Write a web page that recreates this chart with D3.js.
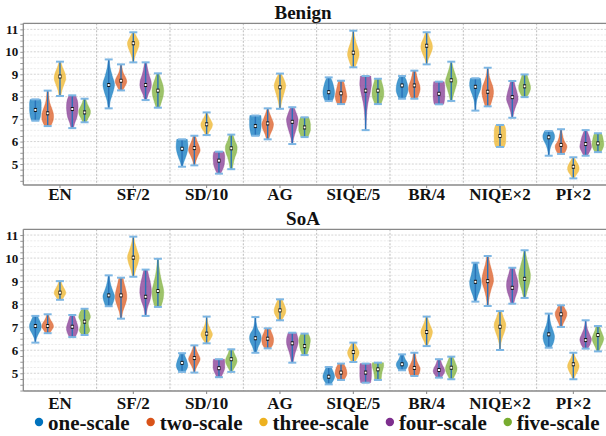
<!DOCTYPE html>
<html><head><meta charset="utf-8">
<script src="https://cdn.jsdelivr.net/npm/d3@7"></script>
<style>
html,body{margin:0;padding:0;background:#fff;}
svg{display:block;}
text{font-family:"Liberation Serif","Times New Roman",serif;font-weight:bold;}
</style></head>
<body>
<svg id="chart" width="606" height="436"></svg>
<script>
const categories = ["EN","SF/2","SD/10","AG","SIQE/5","BR/4","NIQE\u00d72","PI\u00d72"];
const seriesNames = ["one-scale","two-scale","three-scale","four-scale","five-scale"];
const seriesColors = ["#0072BD","#D95319","#EDB120","#7E2F8E","#77AC30"];
const yTicks = [5,6,7,8,9,10,11];
const panelTitles = ["Benign","SoA"];

// Benign panel: [min, median, max] per category, one array per series
const benignOne   = [[6.93,7.41,7.88],[7.48,8.52,9.66],[4.88,5.68,6.10],[6.26,6.69,7.16],[7.81,8.20,8.86],[7.91,8.50,8.92],[7.38,8.44,8.82],[5.37,6.19,6.47]];
const benignTwo   = [[6.69,7.26,8.27],[8.28,8.71,9.44],[4.94,5.71,6.26],[6.10,6.81,7.48],[7.67,8.15,8.71],[7.91,8.50,9.16],[7.57,8.22,9.29],[5.45,5.85,6.55]];
const benignThree = [[8.03,8.90,9.56],[9.53,10.38,10.87],[6.29,6.77,7.30],[7.46,8.42,9.03],[9.31,9.96,10.94],[9.44,10.27,10.87],[5.76,6.25,6.74],[4.36,4.88,5.30]];
const benignFour  = [[6.60,7.45,8.06],[7.85,8.52,9.53],[4.57,5.15,5.55],[5.89,6.88,7.53],[6.51,8.27,8.92],[7.66,8.13,8.67],[7.06,7.98,8.70],[5.37,5.89,6.51]];
const benignFive  = [[6.86,7.30,7.91],[7.51,8.27,9.04],[4.77,5.70,6.31],[6.20,6.63,7.08],[7.67,8.27,8.80],[7.81,8.73,9.56],[7.98,8.46,8.99],[5.53,5.92,6.37]];
// SoA panel
const soaOne   = [[6.33,7.05,7.49],[7.91,8.38,9.25],[5.06,5.45,5.87],[5.89,6.52,7.44],[4.52,4.85,5.27],[5.13,5.39,5.82],[8.11,8.97,9.80],[6.11,6.69,7.59]];
const soaTwo   = [[6.74,7.05,7.56],[7.37,8.38,9.15],[5.03,5.66,6.21],[6.08,6.50,6.95],[4.71,5.03,5.42],[4.88,5.23,5.89],[7.92,9.00,10.09],[7.01,7.56,7.95]];
const soaThree = [[8.19,8.50,9.00],[9.19,10.02,10.93],[6.30,6.72,7.46],[7.30,7.73,8.21],[5.49,5.92,6.33],[6.18,6.79,7.46],[6.01,7.02,7.70],[4.74,5.39,5.89]];
const soaFour  = [[6.57,7.02,7.53],[7.49,8.32,9.50],[4.83,5.22,5.61],[5.46,6.30,6.76],[4.59,5.03,5.42],[4.81,5.14,5.61],[8.02,8.71,9.58],[6.07,6.44,7.30]];
const soaFive  = [[6.66,7.24,7.80],[7.88,8.57,9.97],[5.06,5.61,6.04],[5.79,6.18,6.72],[4.71,5.17,5.46],[4.74,5.24,5.72],[8.27,9.10,10.34],[5.95,6.66,7.05]];

// Relative violin widths from min (first) to max (last)
const benignOneShape   = [[.6,.85,.95,1,1,1,.9],[.1,.3,.75,1,.6,.25,.08],[.1,.3,.6,.85,1,1,.9],[.7,.85,.95,1,1,1,.95],[.6,.9,1,.95,.8,.6,.3],[.5,.8,1,1,.9,.7,.4],[.08,.12,.25,.55,.9,1,.85],[.08,.15,.3,.6,.95,1,.7]];
const benignTwoShape   = [[.5,.95,1,.7,.35,.2,.12],[.3,.7,1,.8,.4,.2,.1],[.1,.3,.65,1,.8,.45,.2],[.2,.45,.85,1,.7,.35,.1],[.6,.9,1,.9,.75,.6,.4],[.5,.8,1,.9,.6,.4,.25],[.4,.75,1,.9,.5,.2,.1],[.5,.9,1,.6,.35,.2,.1]];
const benignThreeShape = [[.15,.35,.7,1,.85,.45,.15],[.1,.25,.55,.9,1,.6,.15],[.2,.5,.9,1,.7,.35,.1],[.1,.25,.5,.8,1,.7,.2],[.3,.7,1,.85,.5,.25,.1],[.1,.3,.7,1,.9,.5,.2],[.75,.95,1,1,1,.95,.75],[.15,.5,.9,1,.8,.45,.15]];
const benignFourShape  = [[.2,.45,.8,.95,1,.9,.55],[.15,.5,.95,.95,.6,.35,.15],[.3,.6,.85,.95,1,1,.85],[.1,.25,.55,.85,1,.7,.3],[.05,.1,.2,.4,.75,1,.9],[.8,.95,1,1,1,1,.9],[.1,.3,.65,1,.85,.55,.3],[.3,.7,1,.9,.75,.5,.2]];
const benignFiveShape  = [[.3,.6,.95,1,.7,.4,.2],[.3,.6,.9,1,.85,.5,.2],[.2,.35,.6,.95,1,.6,.3],[.6,.8,1,1,1,.9,.7],[.5,.8,1,1,.9,.7,.5],[.15,.4,.75,1,.7,.35,.1],[.4,.75,1,1,.8,.6,.4],[.5,.8,1,1,.9,.8,.6]];
const soaOneShape   = [[.05,.2,.55,.95,1,.7,.4],[.5,.85,1,.7,.4,.2,.1],[.5,.85,1,.9,.75,.5,.4],[.2,.5,.95,.95,.4,.15,.08],[.4,.7,.95,1,.85,.65,.4],[.55,.85,1,.9,.6,.4,.3],[.15,.45,.85,1,.75,.5,.35],[.4,.85,1,.75,.4,.2,.1]];
const soaTwoShape   = [[.35,.7,1,.9,.55,.3,.15],[.1,.3,.7,1,.9,.6,.35],[.1,.3,.7,1,.7,.35,.15],[.5,.85,1,1,.85,.6,.4],[.5,.8,1,1,.9,.7,.45],[.6,.9,1,.7,.4,.25,.15],[.1,.25,.6,1,.8,.4,.15],[.2,.4,.7,.95,1,.7,.35]];
const soaThreeShape = [[.3,.7,1,.9,.6,.35,.2],[.15,.4,.8,1,.65,.3,.1],[.2,.7,1,.7,.35,.15,.08],[.3,.65,.95,1,.85,.6,.35],[.3,.6,.9,1,.8,.5,.25],[.15,.45,.85,1,.7,.35,.15],[.05,.15,.45,.85,1,.6,.25],[.1,.4,.8,1,.75,.35,.1]];
const soaFourShape  = [[.5,.8,1,.95,.75,.55,.35],[.1,.3,.75,1,.9,.6,.3],[.4,.6,.85,1,1,1,.95],[.15,.3,.5,.8,1,.95,.7],[.85,.95,1,1,1,1,.95],[.4,.75,1,.9,.6,.4,.25],[.25,.5,.85,1,.9,.6,.35],[.35,.8,1,.7,.35,.15,.08]];
const soaFiveShape  = [[.4,.9,.7,.65,1,.85,.4],[.5,.9,1,.7,.4,.2,.08],[.2,.5,.85,1,.8,.5,.35],[.4,.6,.8,.9,1,.9,.6],[.55,.6,.65,.75,.9,1,.95],[.3,.6,.9,1,.8,.55,.3],[.15,.5,.9,1,.7,.35,.1],[.2,.45,.8,1,.8,.5,.3]];

const FONT = "'Liberation Serif','Times New Roman',serif";
const panels = [
  {title: panelTitles[0], stats: [benignOne,benignTwo,benignThree,benignFour,benignFive],
   shapes: [benignOneShape,benignTwoShape,benignThreeShape,benignFourShape,benignFiveShape],
   top: 23.3, bottom: 185, domain: [4.065, 11.27], titleY: 18.5, labelY: 199.5},
  {title: panelTitles[1], stats: [soaOne,soaTwo,soaThree,soaFour,soaFive],
   shapes: [soaOneShape,soaTwoShape,soaThreeShape,soaFourShape,soaFiveShape],
   top: 229.3, bottom: 391, domain: [4.23, 11.25], titleY: 225, labelY: 408.5}
];

const svg = d3.select("#chart").attr("font-family", FONT).attr("font-weight", "bold");
const left = 23.3, right = 610;
const x = d3.scaleBand().domain(categories).range([left, right]).padding(0);
const xs = d3.scalePoint().domain(seriesNames).range([-24.6, 24.6]);
const halfW = 5.8;

panels.forEach(p => {
  const g = svg.append("g");
  const y = d3.scaleLinear().domain(p.domain).range([p.bottom, p.top]);
  // minor grid
  const minor = d3.range(4.25, 11.26, 0.25).filter(v => v > p.domain[0] && v < p.domain[1]);
  g.append("g").selectAll("line").data(minor).join("line")
    .attr("x1", left).attr("x2", right).attr("y1", d => y(d)).attr("y2", d => y(d))
    .attr("stroke", d => Math.abs(d - Math.round(d)) < 1e-6 ? "#c8c8c8" : "#e6e6e6")
    .attr("stroke-width", 0.8).attr("stroke-dasharray", "2,1.5");
  // category separators
  g.append("g").selectAll("line").data(categories.slice(1)).join("line")
    .attr("x1", d => x(d)).attr("x2", d => x(d)).attr("y1", p.top).attr("y2", p.bottom)
    .attr("stroke", "#bdbdbd").attr("stroke-width", 1).attr("stroke-dasharray", "2,1.5");
  // axes
  const yAxis = d3.axisLeft(y).tickValues(yTicks).tickSize(0).tickPadding(5).tickFormat(d3.format("d"));
  const ya = g.append("g").attr("transform", `translate(${left},0)`).call(yAxis)
    .attr("font-family", FONT).attr("font-size", 13).attr("font-weight", "bold");
  ya.select(".domain").remove();
  ya.selectAll("text").attr("fill", "#111");
  const yMinor = d3.axisLeft(y).tickValues(minor).tickSize(3).tickFormat("");
  const ym = g.append("g").attr("transform", `translate(${left},0)`).call(yMinor);
  ym.select(".domain").remove();
  ym.selectAll("line").attr("stroke", "#999");
  const xAxis = d3.axisBottom(x).tickSize(3).tickFormat("");
  const xa = g.append("g").attr("transform", `translate(0,${p.bottom})`).call(xAxis);
  xa.select(".domain").remove();
  xa.selectAll("line").attr("stroke", "#888");
  g.append("line").attr("x1", left).attr("x2", right).attr("y1", p.top).attr("y2", p.top).attr("stroke", "#888").attr("stroke-width", 1.3);
  g.append("line").attr("x1", left).attr("x2", right).attr("y1", p.bottom).attr("y2", p.bottom).attr("stroke", "#888").attr("stroke-width", 1.3);
  g.append("line").attr("x1", left).attr("x2", left).attr("y1", p.top).attr("y2", p.bottom).attr("stroke", "#888").attr("stroke-width", 1.3);
  // category labels
  g.append("g").selectAll("text").data(categories).join("text")
    .attr("x", d => x(d) + x.bandwidth() / 2).attr("y", p.labelY)
    .attr("text-anchor", "middle").attr("font-size", 17).attr("fill", "#111").text(d => d);
  // title
  g.append("text").attr("x", 303).attr("y", p.titleY).attr("text-anchor", "middle")
    .attr("font-size", 19).attr("fill", "#111").text(p.title);

  // violins
  seriesNames.forEach((s, si) => {
    const sg = g.append("g");
    categories.forEach((c, ci) => {
      const [mn, md, mx] = p.stats[si][ci];
      const shape = p.shapes[si][ci];
      const cx = x(c) + x.bandwidth() / 2 + xs(s);
      const pts = shape.map((w, i) => ({v: mx - (mx - mn) * i / (shape.length - 1), w: shape[shape.length - 1 - i]}));
      const area = d3.area().y(d => y(d.v)).x0(d => cx - d.w * halfW).x1(d => cx + d.w * halfW).curve(d3.curveCatmullRom);
      sg.append("path").attr("d", area(pts)).attr("fill", seriesColors[si]).attr("fill-opacity", 0.72)
        .attr("stroke", seriesColors[si]).attr("stroke-opacity", 0.5).attr("stroke-width", 0.6);
      sg.append("line").attr("x1", cx).attr("x2", cx).attr("y1", y(mn)).attr("y2", y(mx))
        .attr("stroke", "#2a72b8").attr("stroke-width", 1.4);
      [mn, mx].forEach(v => sg.append("line").attr("x1", cx - 4).attr("x2", cx + 4).attr("y1", y(v)).attr("y2", y(v))
        .attr("stroke", "#7db6e3").attr("stroke-width", 2));
      sg.append("rect").attr("x", cx - 1.5).attr("y", y(md) - 2).attr("width", 3).attr("height", 4).attr("fill", "#111");
      sg.append("rect").attr("x", cx - 1).attr("y", y(md) - 1).attr("width", 2).attr("height", 2).attr("fill", "#fff");
    });
  });
});

// legend: dot, text, then next item after a fixed gap
const lg = svg.append("g");
let lx = 39;
seriesNames.forEach((s, i) => {
  lg.append("circle").attr("cx", lx).attr("cy", 422).attr("r", 4.2).attr("fill", seriesColors[i]);
  const t = lg.append("text").attr("x", lx + 9).attr("y", 430).attr("font-size", 21).attr("fill", "#111").text(s);
  lx = lx + 9 + t.node().getComputedTextLength() + 21;
});
</script>
</body></html>
